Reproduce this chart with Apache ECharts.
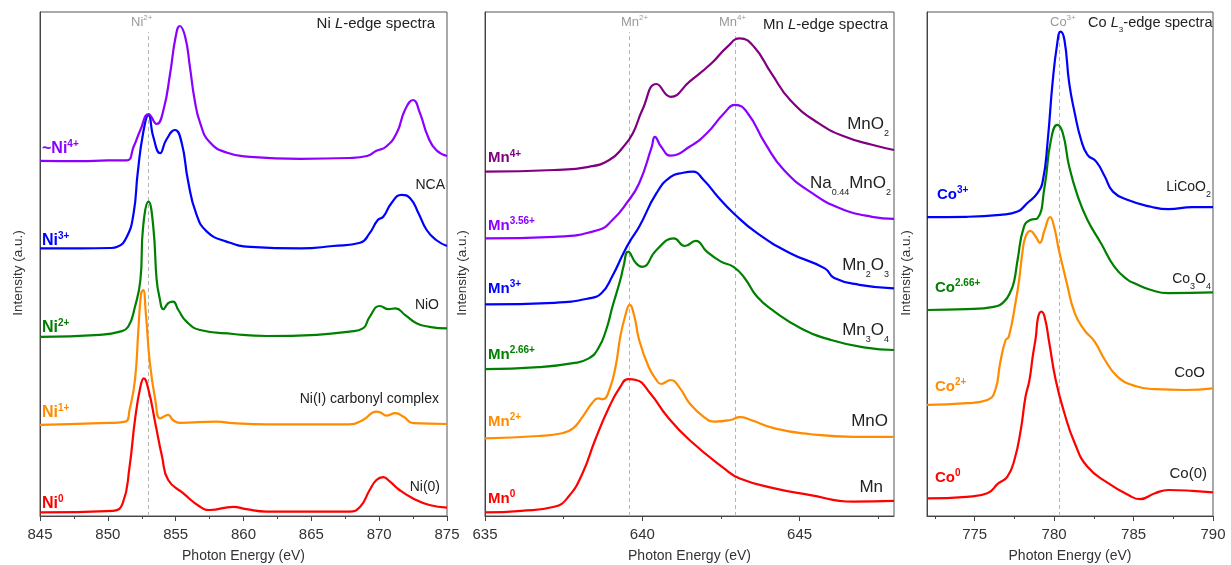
<!DOCTYPE html>
<html><head><meta charset="utf-8">
<script src="https://cdn.jsdelivr.net/npm/echarts@6/dist/echarts.min.js"></script>
<style>html,body{margin:0;padding:0;background:#fff}#c{width:1231px;height:565px}</style>
</head><body><div id="c"></div><script>
// ---------- DATA (photon energy eV, intensity a.u. incl. vertical offset) ----------
const niMajorTicks = [845, 850, 855, 860, 865, 870, 875];
const niMinorTicks = [847.5, 852.5, 857.5, 862.5, 867.5, 872.5];
const mnMajorTicks = [635, 640, 645];
const mnMinorTicks = [637.5, 642.5, 647.5];
const coMajorTicks = [775, 780, 785, 790];
const coMinorTicks = [772.5, 777.5, 782.5, 787.5];

const niRefLine = 853.0;
const mnRefLines = [639.6, 642.95];
const coRefLine = 780.3;

const ni4 = [[845,88.8],[848,88.7],[850,88.9],[851.4,88.9],[851.9,92.3],[852.4,96.5],[853.0,100.5],[853.6,98],[854.1,101.5],[854.6,110.8],[855.0,119.8],[855.3,122.5],[855.7,119.8],[856.05,112.3],[856.4,104],[856.8,98.3],[857.5,93.5],[858.8,90.8],[860.5,89.8],[864.2,89.3],[867.8,89.5],[869.1,90],[869.8,91.3],[870.5,92.3],[871.3,95.8],[871.9,101.5],[872.5,104],[873.0,100.8],[873.6,94.8],[874.2,91.5],[875,90]];
const nca = [[845,66.9],[848,66.9],[850.2,67.0],[850.7,67.3],[851.4,69.8],[851.9,75.7],[852.2,85.7],[852.6,95.7],[853.0,100.3],[853.35,94.8],[853.85,90.7],[854.3,94],[854.95,96.5],[855.45,93.2],[855.9,84],[856.5,75.7],[857.3,71.1],[858.75,68.6],[860.5,67.3],[864.2,66.9],[866.6,67.5],[868.6,68.3],[869.3,70.7],[869.9,74],[870.3,74.8],[870.9,78.2],[871.65,80.3],[872.3,79.4],[872.9,75.7],[873.5,71.5],[874.2,69],[875,67.5]];
const nio = [[845,44.8],[849.4,45.3],[850.9,46.1],[851.5,47.3],[852.0,52.3],[852.4,59],[852.6,72.3],[853.0,78.6],[853.35,72.3],[853.6,59],[853.8,54.8],[854.1,51.7],[854.45,53.2],[854.8,53.6],[855.2,51.5],[855.8,48.6],[856.8,46.5],[859.25,45.5],[861.7,45],[865.4,45.3],[867.8,46.1],[868.8,46.9],[869.3,49.8],[870.05,52.5],[870.7,51.7],[871.2,51.9],[871.9,50.3],[872.75,48.2],[873.7,47.3],[875,46.9]];
const ni1 = [[845,22.8],[849.4,23.2],[851.3,23.6],[851.6,26.5],[852.0,34],[852.25,46.5],[852.45,55.5],[852.6,56.5],[852.8,50.7],[853.1,38.2],[853.5,29],[853.85,24.4],[854.2,25],[854.45,25.3],[854.8,24],[855.3,23.3],[858,23.6],[859.25,23.2],[861.7,22.9],[867.8,22.9],[868.8,24],[869.8,26.1],[870.2,25.7],[870.5,25.1],[871.2,25.7],[871.8,24.8],[872.5,23.2],[875,23]];
const ni0 = [[845,0.9],[850.4,1.3],[851.1,3.2],[851.6,12.3],[852.0,24],[852.4,32.3],[852.65,34.4],[853,31.5],[853.5,23.2],[854.0,14.8],[854.45,9],[855.55,5.7],[856.8,2.3],[857.5,1.5],[859.25,2.3],[860.2,1.7],[861.7,1.1],[867.8,1.1],[868.6,2.3],[869.3,6.5],[869.8,9],[870.3,9.7],[870.8,8.6],[871.5,6.5],[872.5,4.4],[873.7,2.75],[875,2.1]];

const mnO2 = [[635,86.1],[637.2,86.5],[638.3,87.3],[638.95,89],[639.4,92.3],[639.7,95.7],[640.0,101.5],[640.45,108],[640.9,104.8],[641.5,108.6],[642.2,113.2],[642.7,117.3],[643.1,119.4],[643.55,117.3],[644.1,110.7],[644.7,104],[645.6,98.2],[646.45,94.8],[647.3,92.8],[648,91.5]];
const naMnO2 = [[635,69.4],[637.2,69.8],[638.6,71.5],[639.05,74],[639.5,78.2],[639.9,83.2],[640.3,92.3],[640.4,94.8],[640.6,92.3],[640.9,90.1],[641.5,92.3],[642.05,95.7],[642.6,100.7],[642.95,102.8],[643.35,100.7],[643.9,93.2],[644.5,86.5],[645.4,80.7],[646.3,76.9],[647.3,74.8],[648,74.3]];
const mn2O3 = [[635,52.9],[637.2,53.3],[638.3,54.4],[638.7,55.7],[639.05,60],[639.4,65.7],[639.6,68.6],[639.9,72.3],[640.45,80.7],[640.9,84.8],[641.3,85.8],[641.6,86.1],[641.95,84],[642.4,79.8],[642.9,75.7],[643.65,70.7],[644.7,65.7],[645.8,61.9],[646.1,59.5],[646.9,57.8],[648,56.9]];
const mn3O4 = [[635,36.7],[636.7,37.2],[637.8,38.2],[638.3,39.4],[638.6,41.9],[638.85,46.5],[639.05,52.3],[639.3,59],[639.4,62.3],[639.55,66.1],[639.8,63.2],[640.0,62.3],[640.45,66.5],[641.0,69.4],[641.35,67.5],[641.7,68.8],[642.05,66.1],[642.5,63.6],[642.9,62.3],[643.25,59.5],[643.65,54.8],[644.2,51.1],[645.05,46.9],[646.0,44],[647.1,42.1],[648,41.5]];
const mnO = [[635,19.4],[636.7,20],[637.45,20.7],[637.8,21.9],[638.1,24.8],[638.4,28.2],[638.6,29.4],[638.75,29.2],[638.95,31.5],[639.15,37.3],[639.3,44.8],[639.45,49.8],[639.6,52.8],[639.75,49.8],[639.9,44],[640.2,37.3],[640.45,34],[640.6,33],[640.9,34],[641.2,31.9],[641.5,28.2],[641.95,24.8],[642.3,23.6],[642.8,24],[643.1,24.7],[643.45,24],[644.2,21.9],[645.3,20.5],[646.7,19.8],[648,19.8]];
const mn0 = [[635,0.9],[636.15,1.3],[637.2,2.3],[637.65,4.8],[638.1,10.7],[638.5,19],[638.95,27.3],[639.3,32.3],[639.55,34.2],[639.8,34],[640.25,30.7],[640.8,24.8],[641.5,19],[642.6,11.9],[643.1,9.4],[644.2,6.9],[645.3,5.3],[646.7,3.6],[648,3.8]];

const liCoO2 = [[772,74.7],[774.5,74.8],[776.6,75.3],[777.7,76.1],[778.3,78.2],[778.95,80.7],[779.3,84],[779.6,94],[779.9,108.2],[780.2,118.2],[780.4,121.1],[780.65,119],[780.95,108.2],[781.3,100.7],[781.7,94],[782.1,90.3],[782.65,88.6],[783.2,84.8],[783.7,81.1],[784.65,79],[786.1,77.3],[787.2,76.7],[788.7,77.2],[790,77.2]];
const co3O4 = [[772,51.5],[774.5,51.7],[776.2,52.3],[776.85,53.6],[777.3,56.5],[777.5,59],[777.7,64],[778.1,72.3],[778.5,74],[778.95,74.4],[779.4,82.3],[779.8,94],[780.2,97.8],[780.55,95.7],[780.95,87.3],[781.5,79.8],[782.1,74],[782.95,68.2],[783.8,62.3],[784.65,59],[785.05,58.2],[786.1,56.5],[787.2,55.7],[790,55.9]];
const coO = [[772,27.8],[774.5,28.2],[775.8,29],[776.3,31.5],[776.6,38.2],[776.95,44],[777.15,44.8],[777.6,54],[777.8,59],[778.0,65.7],[778.2,69.8],[778.5,71.3],[778.85,69.8],[779.1,68.3],[779.4,71.5],[779.75,74.7],[780.0,72.3],[780.3,66.5],[780.65,60.7],[780.75,59],[781.3,50.7],[781.9,46.5],[782.55,43.6],[783.2,39],[784.0,34.8],[785.1,32.5],[786.35,31.7],[788.25,31.5],[790,31.9]];
const co0 = [[772,4.4],[774.5,4.8],[775.8,5.7],[776.5,8.2],[777.05,9.8],[777.5,14],[777.9,21.5],[778.2,29.8],[778.45,34],[778.65,39.8],[778.85,44.8],[779.0,49.8],[779.2,51.1],[779.4,49.8],[779.7,43.2],[780.1,34],[780.65,25.7],[781.3,18.2],[782.1,12.3],[783.4,8.2],[784.65,5.3],[785.4,4.2],[786.35,5.7],[787.2,6.5],[788.7,6.3],[790,5.9]];

// ---------- STYLE ----------
const FAMILY = '"Liberation Sans", Arial, sans-serif';
const COL = {purple:'#8B00FF', dpurple:'#800080', blue:'#0000FF', green:'#008000', orange:'#FF8C00', red:'#FF0000', gray:'#9a9a9a', text:'#222'};
const YMAX = 126;

const mctx = document.createElement('canvas').getContext('2d');
function measure(t, size, weight, style) {
  mctx.font = style + ' ' + weight + ' ' + size + 'px ' + FAMILY;
  return mctx.measureText(t).width;
}
// parts: [text, kind] kind: '' normal, 'i' italic, 'sup', 'sub'
function label(parts, x, y, o) {
  const size = o.size, weight = o.weight || 'normal', small = o.small || Math.round(size * 0.62);
  const items = parts.map(function (p) {
    const k = p[1] || '';
    const fs = (k === 'sup' || k === 'sub') ? small : size;
    const st = k === 'i' ? 'italic' : 'normal';
    const dy = k === 'sup' ? (o.supDy != null ? o.supDy : -size * 0.3) : k === 'sub' ? (o.subDy != null ? o.subDy : size * 0.55) : 0;
    return {t: p[0], fs: fs, st: st, w: measure(p[0], fs, weight, st), dy: dy};
  });
  const total = items.reduce(function (a, b) { return a + b.w; }, 0);
  let cx = o.align === 'right' ? x - total : (o.align === 'center' ? x - total / 2 : x);
  const children = items.map(function (it) {
    const el = {type: 'text', x: cx, y: y + it.dy, silent: true,
      style: {text: it.t, fill: o.color, fontSize: it.fs, fontFamily: FAMILY, fontWeight: weight, fontStyle: it.st,
        textAlign: 'left', align: 'left', textVerticalAlign: 'middle', verticalAlign: 'middle'}};
    cx += it.w;
    return el;
  });
  return {type: 'group', silent: true, children: children};
}
function yTitle(x) {
  return {type: 'text', x: x, y: 273, rotation: Math.PI / 2, silent: true,
    style: {text: 'Intensity (a.u.)', fill: '#333', fontSize: 13.5, fontFamily: FAMILY,
      textAlign: 'center', align: 'center', textVerticalAlign: 'middle', verticalAlign: 'middle'}};
}

function grid(left, width) {
  return {left: left, top: 12, width: width, height: 504, show: true, borderColor: '#555', borderWidth: 1,
    backgroundColor: 'transparent', containLabel: false, outerBoundsMode: 'none'};
}
function xAxes(gi, min, max, major, minor) {
  return [
    {gridIndex: gi, type: 'value', min: min, max: max, position: 'bottom',
      axisLine: {show: true, onZero: false, lineStyle: {color: '#444', width: 1}},
      axisTick: {show: true, inside: false, length: 5, customValues: major, lineStyle: {color: '#444'}},
      axisLabel: {show: true, customValues: major, margin: 11, fontSize: 15, color: '#333', fontFamily: FAMILY},
      splitLine: {show: false}, minorTick: {show: false},
      name: 'Photon Energy (eV)', nameLocation: 'middle', nameGap: 33,
      nameTextStyle: {fontSize: 14, color: '#333', fontFamily: FAMILY}},
    {gridIndex: gi, type: 'value', min: min, max: max, position: 'bottom',
      axisLine: {show: false, onZero: false},
      axisTick: {show: true, inside: false, length: 3, customValues: minor, lineStyle: {color: '#444'}},
      axisLabel: {show: false}, splitLine: {show: false}}
  ];
}
function yAxis(gi) {
  return {gridIndex: gi, type: 'value', min: 0, max: YMAX,
    axisLine: {show: true, lineStyle: {color: '#444', width: 1}},
    axisTick: {show: false}, axisLabel: {show: false}, splitLine: {show: false}};
}
function ser(name, data, color, gi, refs) {
  const s = {name: name, type: 'line', data: data, xAxisIndex: gi * 2, yAxisIndex: gi,
    showSymbol: false, symbol: 'none', smooth: 0.5,
    lineStyle: {color: color, width: 2.2}, itemStyle: {color: color}, silent: true, z: 3};
  if (refs) {
    s.markLine = {silent: true, symbol: ['none', 'none'], animation: false, z: 1,
      lineStyle: {color: '#b5b5b5', type: [4, 3], width: 1},
      label: {show: false},
      data: refs.map(function (v) { return [{coord: [v, 0]}, {coord: [v, 121]}]; })};
  }
  return s;
}

const series = [
  ser('Ni(0)', ni0, COL.red, 0, [niRefLine]),
  ser('Ni(I)', ni1, COL.orange, 0),
  ser('NiO', nio, COL.green, 0),
  ser('NCA', nca, COL.blue, 0),
  ser('Ni4+', ni4, COL.purple, 0),
  ser('Mn', mn0, COL.red, 1, mnRefLines),
  ser('MnO', mnO, COL.orange, 1),
  ser('Mn3O4', mn3O4, COL.green, 1),
  ser('Mn2O3', mn2O3, COL.blue, 1),
  ser('Na0.44MnO2', naMnO2, COL.purple, 1),
  ser('MnO2', mnO2, COL.dpurple, 1),
  ser('Co(0)', co0, COL.red, 2, [coRefLine]),
  ser('CoO', coO, COL.orange, 2),
  ser('Co3O4', co3O4, COL.green, 2),
  ser('LiCoO2', liCoO2, COL.blue, 2)
];

const B = function (c, s) { return {size: s || 16, weight: 'bold', color: c, small: 10, supDy: -4.5}; };
const T = function (s, a) { return {size: s, color: COL.text, align: a || 'right', small: 9, subDy: s * 0.55}; };
const G = {size: 13, color: COL.gray, small: 8, supDy: -4};

const graphics = [
  yTitle(18), yTitle(462), yTitle(906),
  // Ni panel
  label([['~Ni'], ['4+', 'sup']], 42, 149, B(COL.purple)),
  label([['Ni'], ['3+', 'sup']], 42, 240.5, B(COL.blue)),
  label([['Ni'], ['2+', 'sup']], 42, 327.5, B(COL.green)),
  label([['Ni'], ['1+', 'sup']], 42, 413, B(COL.orange)),
  label([['Ni'], ['0', 'sup']], 42, 504, B(COL.red)),
  label([['Ni '], ['L', 'i'], ['-edge spectra']], 435, 24, T(15)),
  label([['NCA']], 445, 185, T(14)),
  label([['NiO']], 439, 305, T(14)),
  label([['Ni(I) carbonyl complex']], 439, 398.7, T(14)),
  label([['Ni(0)']], 440, 486.7, T(14)),
  label([['Ni'], ['2+', 'sup']], 131, 22, G),
  // Mn panel
  label([['Mn'], ['4+', 'sup']], 488, 158.3, B(COL.dpurple, 15)),
  label([['Mn'], ['3.56+', 'sup']], 488, 225.5, B(COL.purple, 15)),
  label([['Mn'], ['3+', 'sup']], 488, 289, B(COL.blue, 15)),
  label([['Mn'], ['2.66+', 'sup']], 488, 355, B(COL.green, 15)),
  label([['Mn'], ['2+', 'sup']], 488, 422, B(COL.orange, 15)),
  label([['Mn'], ['0', 'sup']], 488, 499, B(COL.red, 15)),
  label([['Mn '], ['L', 'i'], ['-edge spectra']], 888, 25, T(15)),
  label([['MnO'], ['2', 'sub']], 889, 124.5, T(17)),
  label([['Na'], ['0.44', 'sub'], ['MnO'], ['2', 'sub']], 891, 183, T(17)),
  label([['Mn'], ['2', 'sub'], ['O'], ['3', 'sub']], 889, 265, T(17)),
  label([['Mn'], ['3', 'sub'], ['O'], ['4', 'sub']], 889, 330, T(17)),
  label([['MnO']], 888, 421, T(17)),
  label([['Mn']], 883, 487.7, T(17)),
  label([['Mn'], ['2+', 'sup']], 621, 22, G),
  label([['Mn'], ['4+', 'sup']], 719, 22, G),
  // Co panel
  label([['Co'], ['3+', 'sup']], 937, 194.7, B(COL.blue, 15)),
  label([['Co'], ['2.66+', 'sup']], 935, 288, B(COL.green, 15)),
  label([['Co'], ['2+', 'sup']], 935, 387, B(COL.orange, 15)),
  label([['Co'], ['0', 'sup']], 935, 477.5, B(COL.red, 15)),
  label([['Co '], ['L', 'i'], ['3', 'sub'], ['-edge spectra']], 1088, 23, {size: 14.6, color: COL.text, align: 'left', small: 8, subDy: 7}),
  label([['LiCoO'], ['2', 'sub']], 1211, 187, T(14)),
  label([['Co'], ['3', 'sub'], ['O'], ['4', 'sub']], 1211, 279, T(14)),
  label([['CoO']], 1205, 373, T(15)),
  label([['Co(0)']], 1207, 473.5, T(15)),
  label([['Co'], ['3+', 'sup']], 1050, 22, G)
];

const chart = echarts.init(document.getElementById('c'), null, {renderer: 'canvas'});
chart.setOption({
  animation: false,
  backgroundColor: '#fff',
  grid: [grid(40, 407), grid(485, 409), grid(927, 286)],
  xAxis: [].concat(xAxes(0, 845, 875, niMajorTicks, niMinorTicks), xAxes(1, 635, 648, mnMajorTicks, mnMinorTicks), xAxes(2, 772, 790, coMajorTicks, coMinorTicks)),
  yAxis: [yAxis(0), yAxis(1), yAxis(2)],
  series: series,
  graphic: graphics
});
</script></body></html>
